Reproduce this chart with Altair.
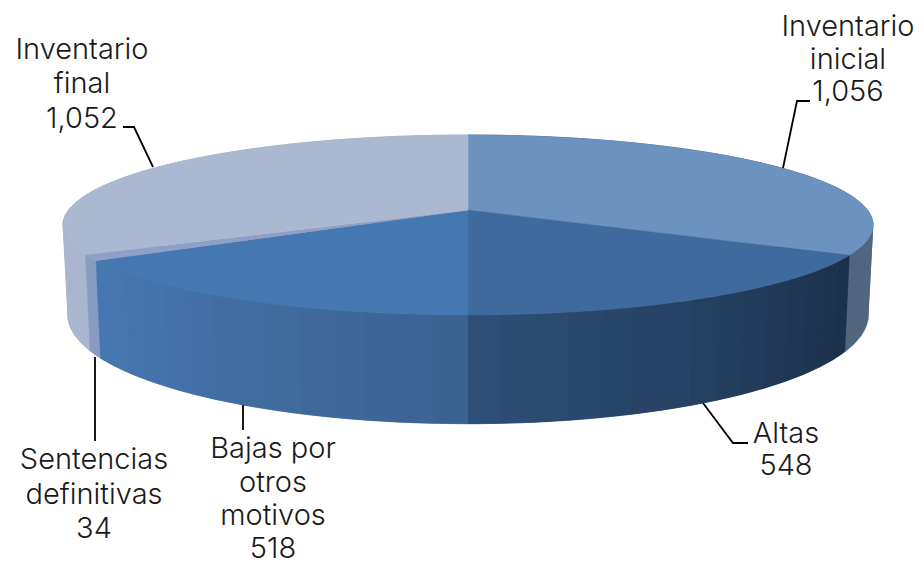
import math
import altair as alt

categories = ["Inventario inicial", "Altas", "Bajas por otros motivos", "Sentencias definitivas", "Inventario final"]
values = [1056, 548, 518, 34, 1052]
top_colors = ["#6c93bf", "#3f6a9e", "#4577b1", "#8f9fc6", "#abb8d2"]
wall_start = ["#5b6f8c", "#1b3049", "#3b6290", "#8a9bc1", "#a9b6d0"]
wall_end = ["#52657f", "#2e4f78", "#4778b2", "#8a9bc1", "#a9b6cf"]

label_lines = [
    ["Inventario", "inicial", "1,056"],
    ["Altas", "548"],
    ["Bajas por", "otros", "motivos", "518"],
    ["Sentencias", "definitivas", "34"],
    ["Inventario", "final", "1,052"],
]
label_x = [848, 786, 273, 94, 82]
label_y = [[36, 69, 101], [443, 475], [458, 492, 525, 558], [469, 504, 538], [59, 93, 128]]

leader_x = [[783, 797, 810], [703, 733, 748], [243, 243], [95, 95], [153, 134, 123]]
leader_y = [[168, 101, 101], [403, 443, 443], [405, 430], [357, 441], [167, 127, 127]]

OFF = 8
K = 1 / 6
CX = 468


def top(t):
    u, v = math.sin(t), -math.cos(t)
    d = 1 - K * v
    return [CX + 399.4 * u / d, 210 + 87.5 * v / d]


def bottom(t):
    u, v = math.sin(t), -math.cos(t)
    d = 1 - K * v
    return [CX + 394.6 * u / d, 297 + 105.6 * v / d]


def mix(a, b, f):
    pa = [int(a[i:i + 2], 16) for i in (1, 3, 5)]
    pb = [int(b[i:i + 2], 16) for i in (1, 3, 5)]
    return "#%02x%02x%02x" % tuple(round(x + (y - x) * f) for x, y in zip(pa, pb))


def poly(points, color):
    return {
        "type": "Feature",
        "properties": {"c": color},
        "geometry": {"type": "Polygon", "coordinates": [points + [points[0]]]},
    }


total = sum(values)
edges = [0.0]
for val in values:
    edges.append(edges[-1] + val / total * 2 * math.pi)

backing = []
strips = []
tops = []
for i in range(len(values)):
    a, b = edges[i], edges[i + 1]
    n = max(2, int((b - a) / math.radians(4)))
    for j in range(n):
        t0 = a + (b - a) * j / n
        t1 = a + (b - a) * (j + 1) / n
        strips.append((-math.cos(t0), poly([top(t0), top(t1), bottom(t1), bottom(t0)],
                                           mix(wall_start[i], wall_end[i], (j + 0.5) / n))))
    fine = [a + (b - a) * j / 60 for j in range(61)]
    backing.append(poly([top(t) for t in fine] + [bottom(t) for t in reversed(fine)],
                        mix(wall_start[i], wall_end[i], 0.5)))
    tops.append(poly([[CX, 210]] + [top(t) for t in fine], top_colors[i]))
strips.sort(key=lambda s: s[0])

features = backing + [s[1] for s in strips] + tops
shapes = alt.Chart(
    alt.InlineData(values={"type": "FeatureCollection", "features": features},
                   format=alt.DataFormat(property="features", type="json"))
).mark_geoshape(strokeWidth=0.5).encode(
    color=alt.Color("properties.c:N", scale=None, legend=None),
    stroke=alt.Stroke("properties.c:N", scale=None, legend=None),
).project(type="identity", scale=1, translate=[-OFF, -OFF])

text_rows = []
for name, lines, x, ys in zip(categories, label_lines, label_x, label_y):
    for line, y in zip(lines, ys):
        text_rows.append({"cat": name, "t": line, "x": x - OFF, "y": y - OFF})
labels = alt.Chart(alt.Data(values=text_rows)).mark_text(
    font="Inter", fontSize=29, fontWeight=300, color="#1a1a1a", align="center", baseline="alphabetic"
).encode(x=alt.X("x:Q", scale=None), y=alt.Y("y:Q", scale=None), text="t:N")

line_rows = []
for name, xs, ys in zip(categories, leader_x, leader_y):
    for o, (x, y) in enumerate(zip(xs, ys)):
        line_rows.append({"cat": name, "o": o, "x": x - OFF, "y": y - OFF})
leaders = alt.Chart(alt.Data(values=line_rows)).mark_line(color="#000000", strokeWidth=1.8).encode(
    x=alt.X("x:Q", scale=None), y=alt.Y("y:Q", scale=None), detail="cat:N", order="o:Q"
)

chart = alt.layer(shapes, leaders, labels).properties(
    width=908, height=556, padding=0, autosize=alt.AutoSizeParams(type="none"),
    background="white",
).configure_view(stroke=None)

chart.save("out.html", embed_options={"renderer": "svg", "actions": False})
